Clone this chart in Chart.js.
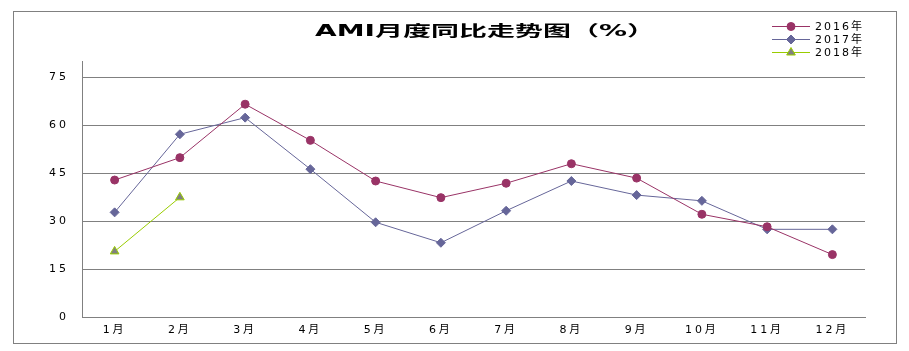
<!DOCTYPE html>
<html lang="zh">
<head>
    <meta charset="UTF-8">
    <title>AMI月度同比走势图</title>
    <style>
        body {
            margin: 0;
            padding: 0;
            background-color: #ffffff;
        }
        #wrap {
            width: 909px;
            height: 351px;
        }
    </style>
</head>
<body>
    <div id="wrap"><canvas id="amiChart" width="909" height="351"></canvas></div>

    <script src="https://cdn.jsdelivr.net/npm/chart.js"></script>
    <script>
        // Values
        const months = ['1月', '2月', '3月', '4月', '5月', '6月', '7月', '8月', '9月', '10月', '11月', '12月'];
        const ami2016 = [42.8, 49.8, 66.5, 55.2, 42.5, 37.3, 41.8, 47.9, 43.4, 32.1, 28.2, 19.5];
        const ami2017 = [32.7, 57.1, 62.3, 46.2, 29.6, 23.2, 33.2, 42.5, 38.1, 36.3, 27.4, 27.4];
        const ami2018 = [20.5, 37.4, null, null, null, null, null, null, null, null, null, null];
        const yTicks = [0, 15, 30, 45, 60, 75];

        const titleText = 'AMI月度同比走势图（%）';
        const tickFont = '"DejaVu Sans", "Noto Sans CJK SC", sans-serif';

        // Frame, title and legend drawn around the chart
        const decorPlugin = {
            id: 'decor',
            beforeDraw(chart) {
                chart.ctx.letterSpacing = '3px';
            },
            afterDraw(chart) {
                const ctx = chart.ctx;
                ctx.save();
                ctx.letterSpacing = '0px';

                // outer frame
                ctx.strokeStyle = '#808080';
                ctx.lineWidth = 1;
                ctx.strokeRect(13.5, 11.5, 883, 332);

                // title, stretched wide like the original
                ctx.font = 'bold 15px "DejaVu Sans", "Noto Sans CJK SC", sans-serif';
                ctx.fillStyle = '#000';
                ctx.textBaseline = 'middle';
                ctx.textAlign = 'left';
                const w = ctx.measureText(titleText).width;
                ctx.translate(315, 32);
                ctx.scale(340 / w, 1);
                ctx.fillText(titleText, 0, 0);
                ctx.restore();

                // legend
                ctx.save();
                ctx.letterSpacing = '2px';
                ctx.font = '11px ' + tickFont;
                ctx.textBaseline = 'middle';
                ctx.textAlign = 'left';
                const rows = [26, 39, 52];
                chart.data.datasets.forEach(function(ds, i) {
                    const y = rows[i];
                    ctx.strokeStyle = ds.borderColor;
                    ctx.lineWidth = 1;
                    ctx.beginPath();
                    ctx.moveTo(772, y + 0.5);
                    ctx.lineTo(810, y + 0.5);
                    ctx.stroke();
                    ctx.fillStyle = ds.pointBackgroundColor;
                    ctx.strokeStyle = ds.pointBorderColor;
                    Chart.helpers.drawPoint(ctx, {
                        pointStyle: ds.pointStyle,
                        rotation: 0,
                        radius: ds.pointRadius,
                        borderWidth: 1
                    }, 791, y + 0.5);
                    ctx.fillStyle = '#000';
                    ctx.fillText(ds.label, 815, y + 1);
                });
                ctx.restore();
            }
        };

        const ctx = document.getElementById('amiChart').getContext('2d');
        const amiChart = new Chart(ctx, {
            type: 'line',
            data: {
                labels: months,
                datasets: [
                    {
                        label: '2016年',
                        data: ami2016,
                        borderColor: '#993366',
                        borderWidth: 1,
                        pointStyle: 'circle',
                        pointRadius: 4,
                        pointBackgroundColor: '#993366',
                        pointBorderColor: '#993366',
                        tension: 0
                    },
                    {
                        label: '2017年',
                        data: ami2017,
                        borderColor: '#666699',
                        borderWidth: 1,
                        pointStyle: 'rectRot',
                        pointRadius: 4.5,
                        pointBackgroundColor: '#666699',
                        pointBorderColor: '#666699',
                        tension: 0
                    },
                    {
                        label: '2018年',
                        data: ami2018,
                        borderColor: '#99CC00',
                        borderWidth: 1,
                        pointStyle: 'triangle',
                        pointRadius: 5,
                        pointBackgroundColor: '#808080',
                        pointBorderColor: '#99CC00',
                        tension: 0
                    }
                ]
            },
            options: {
                responsive: false,
                animation: false,
                layout: {
                    padding: { left: 0, top: 61, right: 44, bottom: 0 }
                },
                plugins: {
                    legend: { display: false },
                    title: { display: false },
                    tooltip: { enabled: false }
                },
                scales: {
                    x: {
                        offset: true,
                        grid: { display: false, drawTicks: false },
                        border: { color: '#808080', width: 1 },
                        ticks: {
                            color: '#000',
                            font: { family: tickFont, size: 11 },
                            padding: 7,
                            maxRotation: 0,
                            autoSkip: false
                        },
                        afterFit(axis) { axis.height = 34; }
                    },
                    y: {
                        min: 0,
                        max: 80,
                        grid: { color: '#808080', drawTicks: false },
                        border: { color: '#808080', width: 1 },
                        ticks: {
                            color: '#000',
                            font: { family: tickFont, size: 11 },
                            padding: 13
                        },
                        afterBuildTicks(axis) {
                            axis.ticks = yTicks.map(v => ({ value: v }));
                        },
                        afterFit(axis) { axis.width = 82; }
                    }
                }
            },
            plugins: [decorPlugin]
        });
    </script>
</body>
</html>
